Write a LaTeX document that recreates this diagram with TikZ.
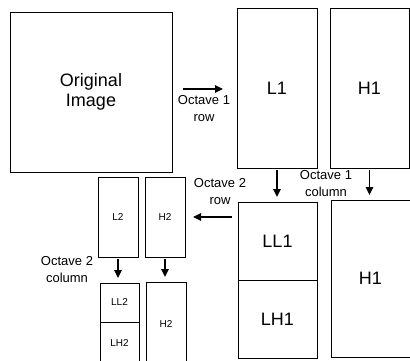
\documentclass[tikz,border=0pt]{standalone}
\usepackage{fontspec}
\setmainfont{Liberation Sans}
\usetikzlibrary{arrows.meta,positioning}

\begin{document}
\begin{tikzpicture}[
        x=1pt, y=-1pt,
        banda/.style={draw, line width=1pt, inner sep=0pt, outer sep=0pt, anchor=north west, align=center, font=\fontsize{18}{20}\selectfont},
        chica/.style={banda, font=\fontsize{10}{12}\selectfont},
        etiqueta/.style={align=center, inner sep=0pt, font=\fontsize{13}{17}\selectfont},
        flecha/.style={-{Triangle[length=8pt,width=7.5pt]}, line width=1.3pt}
    ]
        \useasboundingbox (0,0) rectangle (410,360);
        \clip (0,0) rectangle (410,360);

        % octave 1
        \node[banda, minimum width=162pt, minimum height=160pt] (orig) at (10,12) {Original\\Image};
        \node[banda, minimum width=80pt, minimum height=160pt] (L1) at (237,8) {L1};
        \node[banda, minimum width=79pt, minimum height=160pt] (H1) at (330,8) {H1};

        \node[banda, minimum width=79pt, minimum height=78pt] (LL1) at (238,202) {LL1};
        \node[banda, minimum width=79pt, minimum height=78pt, below=0pt of LL1] (LH1) {LH1};
        \node[banda, minimum width=79pt, minimum height=157pt] (H1b) at (331,200) {H1};

        % octave 2
        \node[chica, minimum width=40pt, minimum height=80pt] (L2) at (98,177) {L2};
        \node[chica, minimum width=40pt, minimum height=80pt, right=7pt of L2] (H2) {H2};

        \node[chica, minimum width=39pt, minimum height=39pt] (LL2) at (100,283) {LL2};
        \node[chica, minimum width=39pt, minimum height=42pt, below=0pt of LL2] (LH2) {LH2};
        \node[chica, minimum width=40pt, minimum height=84pt] (H2b) at (146,282) {H2};

        % labels
        \node[etiqueta] (o1f) at (204,109) {Octave 1\\row};
        \node[etiqueta] (o1c) at (326,184) {Octave 1\\column};
        \node[etiqueta] (o2f) at (220,192) {Octave 2\\row};
        \node[etiqueta] (o2c) at (67,270) {Octave 2\\column};

        \draw[flecha, shorten <=11pt, shorten >=14pt] ([yshift=3pt]orig.east) -- ([yshift=3pt]orig.east -| L1.west);
        \draw[flecha, shorten <=2pt, shorten >=5pt] (L1.south) -- (L1.south |- LL1.north);
        \draw[flecha, shorten <=2pt, shorten >=5pt] (H1.south) -- (H1.south |- H1b.north);
        \draw[flecha, shorten <=6pt, shorten >=8pt] (LL1.west |- H2.east) -- (H2.east);
        \draw[flecha, shorten <=2pt, shorten >=5pt] (L2.south) -- (L2.south |- LL2.north);
        \draw[flecha, shorten <=2pt, shorten >=5pt] (H2.south) -- (H2.south |- H2b.north);
    \end{tikzpicture}
\end{document}
